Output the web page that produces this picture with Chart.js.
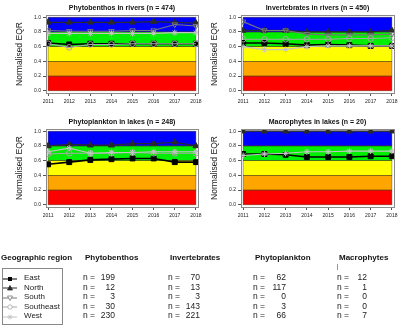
<!DOCTYPE html>
<html><head><meta charset="utf-8">
<script src="https://cdn.jsdelivr.net/npm/chart.js@4/dist/chart.umd.min.js"></script>
<style>
body{margin:0;width:400px;height:327px;position:relative;background:#fff;font-family:"Liberation Sans",Arial,sans-serif;overflow:hidden}
canvas{position:absolute}
.t{position:absolute;white-space:pre;color:#111;line-height:1}
.ttl{position:absolute;font-weight:bold;font-size:7px;color:#111;text-align:center;white-space:pre;line-height:1}
.h{font-weight:bold;font-size:8px}
.r{font-size:8.5px;color:#222}
.lg{position:absolute;left:2px;top:268px;width:59px;height:55px;border:1px solid #888}
</style></head><body>
<canvas id="c0" width="205" height="115" style="left:0;top:0"></canvas>
<canvas id="c1" width="205" height="115" style="left:195px;top:0"></canvas>
<canvas id="c2" width="205" height="115" style="left:0;top:114px"></canvas>
<canvas id="c3" width="205" height="115" style="left:195px;top:114px"></canvas>
<div id="overlay"></div>
<script>
// ---- data ----
const years = [2011, 2012, 2013, 2014, 2015, 2016, 2017, 2018];
const yTicks = [0, 0.2, 0.4, 0.6, 0.8, 1.0];
const bandLimits = [0, 0.2, 0.4, 0.6, 0.8, 1.0];
const bandColors = ['#ff0000', '#ffa500', '#ffff00', '#00ee00', '#0000ff'];
const regions = ['East', 'North', 'South', 'Southeast', 'West'];
const groups = ['Phytobenthos', 'Invertebrates', 'Phytoplankton', 'Macrophytes'];
const panelTitles = ['Phytobenthos in rivers (n = 474)', 'Invertebrates in rivers (n = 450)',
                     'Phytoplankton in lakes (n = 248)', 'Macrophytes in lakes (n = 20)'];

// Phytobenthos in rivers
const phytobenthosEast      = [0.65, 0.63, 0.64, 0.64, 0.64, 0.64, 0.64, 0.64];
const phytobenthosNorth     = [0.93, 0.93, 0.93, 0.93, 0.93, 0.94, 0.93, 0.92];
const phytobenthosSouth     = [0.82, 0.81, 0.81, 0.81, 0.82, 0.82, 0.90, 0.88];
const phytobenthosSoutheast = [0.64, 0.59, 0.63, 0.63, 0.64, 0.64, 0.64, 0.64];
const phytobenthosWest      = [0.78, 0.78, 0.78, 0.78, 0.78, 0.78, 0.79, 0.79];
// Invertebrates in rivers
const invertebratesEast      = [0.65, 0.65, 0.64, 0.62, 0.63, 0.62, 0.61, 0.61];
const invertebratesNorth     = [0.82, 0.82, 0.82, 0.80, 0.80, 0.80, 0.80, 0.82];
const invertebratesSouth     = [0.94, 0.82, 0.82, 0.77, 0.76, 0.76, 0.76, 0.77];
const invertebratesSoutheast = [0.70, 0.70, 0.70, 0.70, 0.70, 0.71, 0.71, 0.72];
const invertebratesWest      = [0.60, 0.56, 0.56, 0.60, 0.61, 0.61, 0.61, 0.61];
// Phytoplankton in lakes
const phytoplanktonEast      = [0.55, 0.58, 0.61, 0.62, 0.63, 0.63, 0.58, 0.58];
const phytoplanktonNorth     = [0.80, 0.82, 0.81, 0.81, 0.83, 0.83, 0.85, 0.80];
const phytoplanktonSouth     = [null, null, null, null, null, null, null, null];
const phytoplanktonSoutheast = [0.69, 0.70, 0.70, 0.70, 0.71, 0.70, 0.70, 0.70];
const phytoplanktonWest      = [0.72, 0.77, 0.70, 0.71, 0.71, 0.72, 0.72, 0.72];
// Macrophytes in lakes
const macrophytesEast      = [0.69, 0.69, 0.68, 0.65, 0.65, 0.65, 0.66, 0.66];
const macrophytesNorth     = [1.00, 1.00, 1.00, 1.00, 1.00, 1.00, 1.00, 1.00];
const macrophytesSouth     = [null, null, null, null, null, null, null, null];
const macrophytesSoutheast = [null, null, null, null, null, null, null, null];
const macrophytesWest      = [0.67, 0.69, 0.70, 0.72, 0.72, 0.73, 0.73, 0.73];

// site counts per region (rows) and group (columns)
const countsPhytobenthos  = [199, 12, 3, 30, 230];
const countsInvertebrates = [70, 13, 3, 143, 221];
const countsPhytoplankton = [62, 117, 0, 3, 66];
const countsMacrophytes   = [12, 1, 0, 0, 7];

const panelSeries = [
  [phytobenthosEast, phytobenthosNorth, phytobenthosSouth, phytobenthosSoutheast, phytobenthosWest],
  [invertebratesEast, invertebratesNorth, invertebratesSouth, invertebratesSoutheast, invertebratesWest],
  [phytoplanktonEast, phytoplanktonNorth, phytoplanktonSouth, phytoplanktonSoutheast, phytoplanktonWest],
  [macrophytesEast, macrophytesNorth, macrophytesSouth, macrophytesSoutheast, macrophytesWest]
];
const countTable = [countsPhytobenthos, countsInvertebrates, countsPhytoplankton, countsMacrophytes];

// ---- styles ----
const seriesStyle = [
  {color:'#000000', style:'rect',     radius:3.5, fill:true,  rot:0,   width:1.6},
  {color:'#2a2a2a', style:'triangle', radius:3.5, fill:true,  rot:0,   width:1.2},
  {color:'#777777', style:'triangle', radius:3.2, fill:false, rot:180, width:1.1},
  {color:'#a8a8a8', style:'circle',   radius:2.8, fill:false, rot:0,   width:1.1},
  {color:'#c4c4c4', style:'star',     radius:3,   fill:false, rot:0,   width:1.1}
];

const bandPlugin = {
  id:'bands',
  beforeDatasetsDraw(chart){
    const {ctx, scales:{x, y}} = chart;
    const x0 = x.getPixelForValue(years[0]), x1 = x.getPixelForValue(years[years.length-1]);
    ctx.save();
    for (let i = 0; i < bandColors.length; i++){
      const yt = y.getPixelForValue(bandLimits[i+1]), yb = y.getPixelForValue(bandLimits[i]);
      ctx.fillStyle = bandColors[i];
      ctx.fillRect(x0, yt, x1 - x0, yb - yt);
    }
    ctx.strokeStyle = 'rgba(60,40,0,0.55)';
    ctx.lineWidth = 0.7;
    for (let i = 0; i < bandColors.length; i++){
      const yt = y.getPixelForValue(bandLimits[i+1]), yb = y.getPixelForValue(bandLimits[i]);
      ctx.strokeRect(x0, yt, x1 - x0, yb - yt);
    }
    ctx.restore();
  },
  afterDraw(chart){
    const {ctx, chartArea:a} = chart;
    ctx.save();
    ctx.strokeStyle = '#8a8a8a';
    ctx.lineWidth = 1;
    ctx.strokeRect(Math.round(a.left)+0.5, Math.round(a.top)+0.5, Math.round(a.right-a.left), Math.round(a.bottom-a.top));
    ctx.restore();
  }
};

const padRight = [7, 6, 7, 6];
for (let p = 0; p < 4; p++){
  const datasets = regions.map((r, i) => {
    const s = seriesStyle[i];
    const pts = [];
    years.forEach((yr, k) => { const v = panelSeries[p][i][k]; if (v !== null) pts.push({x: yr, y: v}); });
    return {
      label: r, data: pts,
      borderColor: s.color, borderWidth: s.width,
      pointStyle: s.style, pointRadius: s.radius, pointRotation: s.rot,
      pointBackgroundColor: s.fill ? s.color : 'rgba(0,0,0,0)',
      pointBorderColor: s.color, pointBorderWidth: 1,
      tension: 0, fill: false
    };
  }).reverse();
  new Chart(document.getElementById('c' + p), {
    type: 'line',
    data: {datasets},
    plugins: [bandPlugin],
    options: {
      responsive: false, animation: false, devicePixelRatio: 1,
      layout: {padding: {top: 15, right: padRight[p], left: 0, bottom: 0}},
      plugins: {legend: {display: false}, tooltip: {enabled: false}, title: {display: false}},
      scales: {
        x: {
          type: 'linear', min: 2010.9, max: 2018.1,
          afterBuildTicks(sc){ sc.ticks = years.map(v => ({value: v})); },
          afterFit(sc){ sc.height = 22; sc.paddingLeft = 0; sc.paddingRight = 0; },
          grid: {display: true, drawOnChartArea: false, drawTicks: true, tickLength: 3, color: '#555'},
          border: {display: false},
          ticks: {autoSkip: false, maxRotation: 0, padding: 3, color: '#222',
                  font: {size: 5, family: '"Liberation Sans", Arial'}, callback: v => String(v)}
        },
        y: {
          type: 'linear', min: -0.03, max: 1.03,
          afterBuildTicks(sc){ sc.ticks = yTicks.map(v => ({value: v})); },
          afterFit(sc){ sc.width = 46; sc.paddingTop = 0; sc.paddingBottom = 0; },
          grid: {display: true, drawOnChartArea: false, drawTicks: true, tickLength: 3, color: '#555'},
          border: {display: false},
          title: {display: true, text: 'Normalised EQR', color: '#222', padding: {top: 15, bottom: 0},
                  font: {size: 8.5, family: '"Liberation Sans", Arial'}},
          ticks: {padding: 2, color: '#222', font: {size: 5, family: '"Liberation Sans", Arial'},
                  callback: v => Number(v).toFixed(1)}
        }
      }
    }
  });
}

// ---- titles and table (HTML text) ----
const ov = document.getElementById('overlay');
function add(cls, txt, css){ const d = document.createElement('div'); d.className = cls; d.textContent = txt; Object.assign(d.style, css); ov.appendChild(d); return d; }
const titlePos = [[46,198,4],[241,394,4],[46,198,118],[241,394,118]];
panelTitles.forEach((t, i) => add('ttl', t, {left: titlePos[i][0]+'px', width: (titlePos[i][1]-titlePos[i][0])+'px', top: titlePos[i][2]+'px'}));

add('t h', 'Geographic region', {left: '1px', top: '254px'});
const colNx = [83, 168, 253, 337];
const colNumRight = [115, 200, 286, 367];
groups.forEach((g, j) => add('t h', g, {left: (colNx[j]+2)+'px', top: '254px'}));
const rowY = [273, 282.5, 292, 301.5, 311];
countTable.forEach((col, j) => {
  col.forEach((n, i) => {
    add('t r', 'n =', {left: colNx[j]+'px', top: rowY[i]+'px'});
    add('t r', String(n), {left: (colNumRight[j]-30)+'px', width: '30px', textAlign: 'right', top: rowY[i]+'px'});
  });
});
// tiny stray tick under Macrophytes
const st = document.createElement('div');
Object.assign(st.style, {position:'absolute', left:'337px', top:'264px', width:'1px', height:'6px', background:'#999'});
ov.appendChild(st);

// legend box
const lg = document.createElement('div'); lg.className = 'lg'; ov.appendChild(lg);
const svgNS = 'http://www.w3.org/2000/svg';
regions.forEach((r, i) => {
  const s = seriesStyle[i];
  const cy = rowY[i] + 5.5;
  const svg = document.createElementNS(svgNS, 'svg');
  svg.setAttribute('width', '16'); svg.setAttribute('height', '8');
  Object.assign(svg.style, {position:'absolute', left:'2px', top:(cy-4)+'px'});
  const ln = document.createElementNS(svgNS, 'line');
  ln.setAttribute('x1', '1'); ln.setAttribute('x2', '15'); ln.setAttribute('y1', '4'); ln.setAttribute('y2', '4');
  ln.setAttribute('stroke', s.color); ln.setAttribute('stroke-width', '1');
  svg.appendChild(ln);
  let m;
  if (s.style === 'rect'){ m = document.createElementNS(svgNS, 'rect'); m.setAttribute('x','6'); m.setAttribute('y','2'); m.setAttribute('width','4'); m.setAttribute('height','4'); m.setAttribute('fill', s.color); }
  else if (s.style === 'triangle'){ m = document.createElementNS(svgNS, 'polygon'); m.setAttribute('points', s.rot ? '5.5,2 10.5,2 8,6.5' : '5.5,6 10.5,6 8,1.5'); m.setAttribute('fill', s.fill ? s.color : '#fff'); m.setAttribute('stroke', s.color); m.setAttribute('stroke-width','0.8'); }
  else if (s.style === 'circle'){ m = document.createElementNS(svgNS, 'circle'); m.setAttribute('cx','8'); m.setAttribute('cy','4'); m.setAttribute('r','2.2'); m.setAttribute('fill','#fff'); m.setAttribute('stroke', s.color); m.setAttribute('stroke-width','0.8'); }
  else { m = document.createElementNS(svgNS, 'path'); m.setAttribute('d','M8 1.5V6.5M5.5 4H10.5M6.2 2.2L9.8 5.8M9.8 2.2L6.2 5.8'); m.setAttribute('stroke', s.color); m.setAttribute('stroke-width','0.8'); }
  svg.appendChild(m);
  ov.appendChild(svg);
  add('t', r, {left: '24px', top: (cy-4.5)+'px', fontSize: '8px', color: '#222'});
});
</script>
</body></html>
